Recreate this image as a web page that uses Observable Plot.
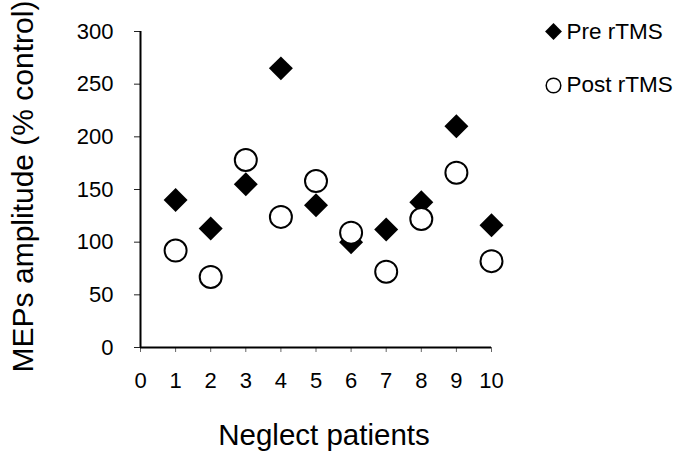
<!DOCTYPE html>
<html>
<head>
<meta charset="utf-8">
<script src="https://cdn.jsdelivr.net/npm/d3@7"></script>
<script src="https://cdn.jsdelivr.net/npm/@observablehq/plot@0.6"></script>
<style>
  html, body { margin: 0; padding: 0; background: #fff; }
</style>
</head>
<body>
<div id="chart"></div>
<script>
const patients = [1, 2, 3, 4, 5, 6, 7, 8, 9, 10];
const preValues = [140, 113, 155, 265, 135, 100, 112, 138, 210, 116];
const postValues = [92, 67, 178, 124, 158, 109, 72, 122, 166, 82];
const seriesNames = ["Pre rTMS", "Post rTMS"];
const xTicks = [0, 1, 2, 3, 4, 5, 6, 7, 8, 9, 10];
const yTicks = [0, 50, 100, 150, 200, 250, 300];
const xLabel = "Neglect patients";
const yLabel = "MEPs amplitude (% control)";

const preData = patients.map((p, i) => ({patient: p, value: preValues[i]}));
const postData = patients.map((p, i) => ({patient: p, value: postValues[i]}));

const chart = Plot.plot({
  width: 685,
  height: 453,
  marginLeft: 140,
  marginRight: 194,
  marginTop: 31,
  marginBottom: 106,
  style: {fontFamily: "'Liberation Sans', Arial, sans-serif", fontSize: "22px", background: "#fff", color: "#000"},
  x: {domain: [0, 10]},
  y: {domain: [0, 300]},
  marks: [
    Plot.axisY(yTicks, {tickSize: 6, tickPadding: 21, fontSize: 22, label: null, stroke: "#222"}),
    Plot.axisX(xTicks, {tickSize: 5, tickPadding: 20, fontSize: 22, label: null, stroke: "#666"}),
    Plot.ruleX([0], {strokeWidth: 2, stroke: "#000"}),
    Plot.ruleY([0], {strokeWidth: 2, stroke: "#000"}),
    Plot.dot(preData, {x: "patient", y: "value", symbol: "diamond2", r: 10.8, fill: "#000", stroke: "none"}),
    Plot.dot(postData, {x: "patient", y: "value", symbol: "circle", r: 11, fill: "#fff", stroke: "#000", strokeWidth: 2}),
    Plot.text([yLabel], {text: d => d, frameAnchor: "left", rotate: -90, textAnchor: "middle", lineAnchor: "middle", dx: -117, dy: -3, fontSize: 30}),
    Plot.text([xLabel], {text: d => d, frameAnchor: "bottom", textAnchor: "middle", lineAnchor: "middle", dx: 8, dy: 88, fontSize: 29.5}),
    Plot.dot([seriesNames[0]], {frameAnchor: "top-right", symbol: "diamond2", r: 7.6, fill: "#000", stroke: "none", dx: 62, dy: 0}),
    Plot.dot([seriesNames[1]], {frameAnchor: "top-right", symbol: "circle", r: 7.3, fill: "#fff", stroke: "#000", strokeWidth: 1.5, dx: 62, dy: 54}),
    Plot.text([seriesNames[0]], {text: d => d, frameAnchor: "top-right", textAnchor: "start", lineAnchor: "middle", dx: 75, dy: 0.5, fontSize: 22.5}),
    Plot.text([seriesNames[1]], {text: d => d, frameAnchor: "top-right", textAnchor: "start", lineAnchor: "middle", dx: 75, dy: 53.5, fontSize: 22.5})
  ]
});
document.getElementById("chart").appendChild(chart);
</script>
</body>
</html>
